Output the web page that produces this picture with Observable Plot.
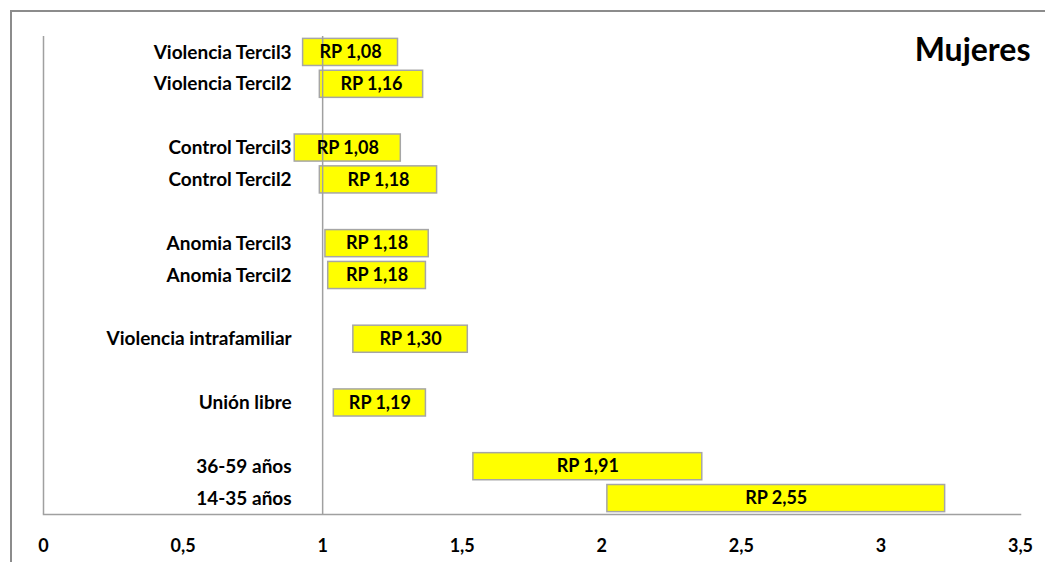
<!DOCTYPE html>
<html>
<head>
<meta charset="utf-8">
<script src="https://cdn.jsdelivr.net/npm/d3@7"></script>
<script src="https://cdn.jsdelivr.net/npm/@observablehq/plot@0.6"></script>
<style>
  html, body { margin: 0; padding: 0; background: #fff; }
  #wrap { position: relative; width: 1045px; height: 562px; overflow: hidden; }
  #border { position: absolute; left: 10px; top: 10px; width: 1100px; height: 600px;
            border-left: 2px solid #8c8c8c; border-top: 2px solid #8c8c8c; box-sizing: border-box; }
  #chart { position: absolute; left: 0; top: 0; }
</style>
</head>
<body>
<div id="wrap"><div id="border"></div><div id="chart"></div></div>
<script>
const categories = ["Violencia Tercil3","Violencia Tercil2","Control Tercil3","Control Tercil2","Anomia Tercil3","Anomia Tercil2","Violencia intrafamiliar","Unión libre","36-59 años","14-35 años"];
const rp   = [1.08, 1.16, 1.08, 1.18, 1.18, 1.18, 1.30, 1.19, 1.91, 2.55];
const low  = [0.93, 0.99, 0.90, 0.99, 1.01, 1.02, 1.11, 1.04, 1.54, 2.02];
const high = [1.27, 1.36, 1.28, 1.41, 1.38, 1.37, 1.52, 1.37, 2.36, 3.23];
const rowOrder = ["Violencia Tercil3","Violencia Tercil2","gap1","Control Tercil3","Control Tercil2","gap2","Anomia Tercil3","Anomia Tercil2","gap3","Violencia intrafamiliar","gap4","Unión libre","gap5","36-59 años","14-35 años"];
const xTicks = [0, 0.5, 1, 1.5, 2, 2.5, 3, 3.5];
const title = "Mujeres";

const data = categories.map((c, i) => ({cat: c, rp: rp[i], low: low[i], high: high[i]}));
const fmt = v => String(v).replace(".", ",");
const fmt2 = v => v.toFixed(2).replace(".", ",");
const font = "Lato, 'Open Sans', sans-serif";

const chart = Plot.plot({
  width: 1045,
  height: 562,
  marginLeft: 43,
  marginRight: 25,
  marginTop: 36,
  marginBottom: 48,
  style: {fontFamily: font, fontSize: "18px", fontWeight: "bold", color: "#000", background: "transparent"},
  x: {domain: [0, 3.5], ticks: xTicks, tickFormat: fmt},
  y: {domain: rowOrder, paddingInner: 0.15, paddingOuter: 0.075, align: 0.5, round: false, axis: null},
  marks: [
    Plot.axisX({ticks: xTicks, tickFormat: fmt, tickSize: 0, tickPadding: 25, fontSize: 18, fontWeight: "bold", label: null}),
    Plot.ruleX([0], {stroke: "#a0a0a0", strokeWidth: 1.5}),
    Plot.frame({anchor: "bottom", stroke: "#a0a0a0", strokeWidth: 1.5}),
    Plot.barX(data, {y: "cat", x1: "low", x2: "high", fill: "#ffff00", stroke: "#a6a6a6", strokeWidth: 1.5}),
    Plot.ruleX([1], {stroke: "#a0a0a0", strokeWidth: 1.5}),
    Plot.text(data, {y: "cat", x: d => (d.low + d.high) / 2, text: d => "RP " + fmt2(d.rp), fontSize: 18, fontWeight: "bold", fill: "#000"}),
    Plot.text(data, {y: "cat", x: () => 1, dx: -31, textAnchor: "end", text: "cat", fontSize: 19, fontWeight: "bold", fill: "#000"}),
    Plot.text([title], {frameAnchor: "top-right", dx: 10, dy: 14, lineAnchor: "middle", textAnchor: "end", fontSize: 32, fontWeight: "bold", fill: "#000"})
  ]
});
document.getElementById("chart").appendChild(chart);
</script>
</body>
</html>
